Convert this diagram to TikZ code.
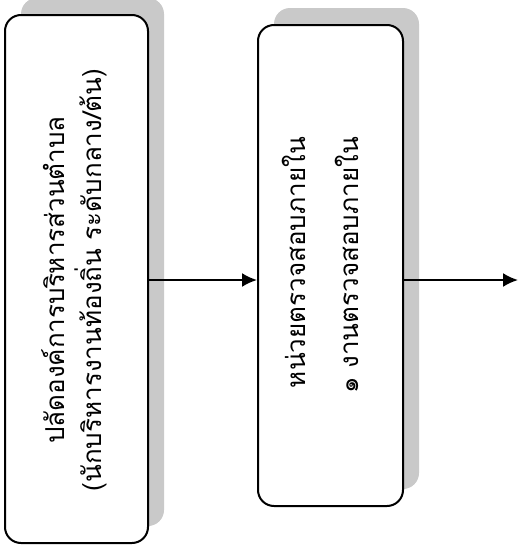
\documentclass[tikz,border=0pt]{standalone}
\usepackage{fontspec}
\newfontfamily\thaifont[Script=Thai]{Loma}
\usetikzlibrary{arrows.meta,shadows}

\begin{document}
\begin{tikzpicture}[x=1pt, y=-1pt,
  box/.style={draw, line width=2pt, rounded corners=16pt, fill=white,
    drop shadow={shadow xshift=16pt, shadow yshift=17pt, fill=gray!42, opacity=1}},
  txt/.style={rotate=90, inner sep=0pt, font={\thaifont\fontsize{26}{37}\selectfont}},
  flow/.style={line width=2pt, -{Latex[length=15pt,width=14pt]}}
]
  \useasboundingbox (0,0) rectangle (520,552);

  \node[box, minimum width=143pt, minimum height=528pt] (box1) at (76.5,279) {};
  \node[box, minimum width=145pt, minimum height=481pt] (box2) at (330.5,265.5) {};

  \node[txt, align=center] (t1) at (74,280) {ปลัดองค์การบริหารส่วนตำบล\\(นักบริหารงานท้องถิ่น ระดับกลาง/ต้น)};
  \node[txt, align=right, anchor=east] (t2) at (320,137) {หน่วยตรวจสอบภายใน\\[16pt]๑ งานตรวจสอบภายใน};

  \coordinate (out) at (518,280);
  \draw[flow] (box1.east |- out) -- (box2.west |- out);
  \draw[flow] (box2.east |- out) -- (out);
\end{tikzpicture}
\end{document}
